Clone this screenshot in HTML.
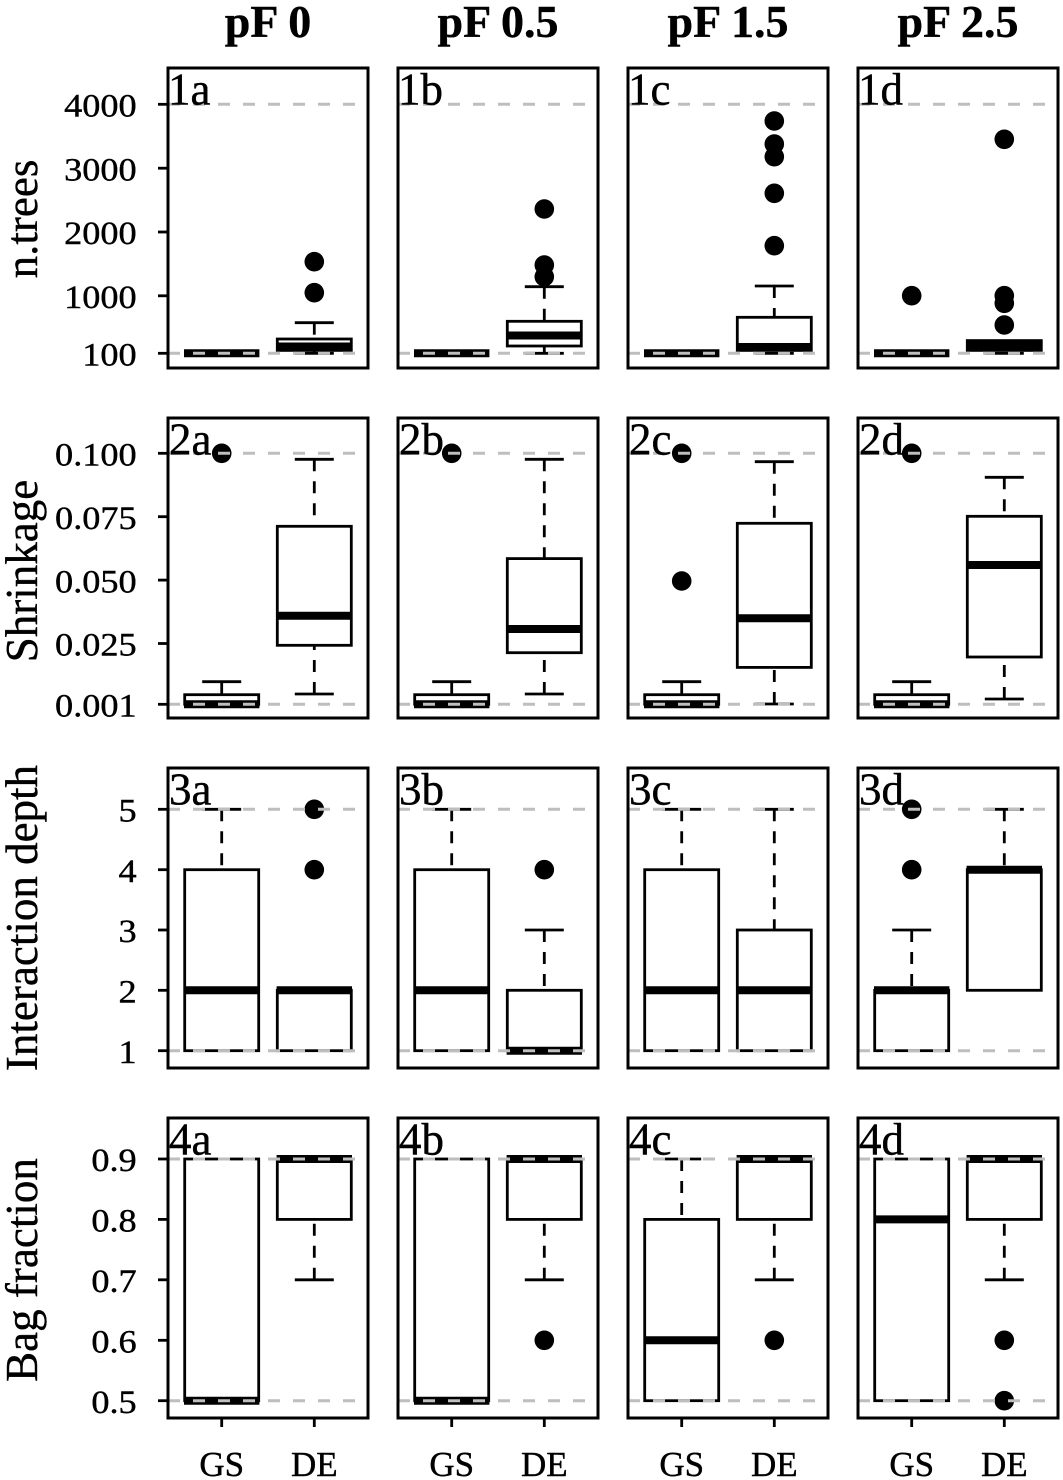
<!DOCTYPE html>
<html><head><meta charset="utf-8"><style>
html,body{margin:0;padding:0;background:#fff;}
svg{display:block;}
.f{fill:none;stroke:#000;stroke-width:3;}
.b{fill:#fff;stroke:#000;stroke-width:2.8;}
.m{stroke:#000;stroke-width:8;}
.w{stroke:#000;stroke-width:2.8;stroke-dasharray:12 10;}
.s{stroke:#000;stroke-width:2.8;}
.g{stroke:#bebebe;stroke-width:3;stroke-dasharray:12 13;}
.t{stroke:#000;stroke-width:2.8;}
text{font-family:"Liberation Serif",serif;fill:#000;stroke:#000;stroke-width:0.4;}
.tl{font-size:33px;}
.pl{font-size:45px;}
.yl{font-size:45px;}
.xl{font-size:35px;}
.ti{font-size:46px;font-weight:bold;}
</style></head><body>
<svg width="1063" height="1480" viewBox="0 0 1063 1480" xmlns="http://www.w3.org/2000/svg">
<rect width="1063" height="1480" fill="#fff"/>

<!-- titles -->
<text class="ti" x="268" y="37" text-anchor="middle">pF 0</text>
<text class="ti" x="498" y="37" text-anchor="middle">pF 0.5</text>
<text class="ti" x="728" y="37" text-anchor="middle">pF 1.5</text>
<text class="ti" x="958" y="37" text-anchor="middle">pF 2.5</text>

<!-- y labels -->
<text class="yl" transform="translate(37,219) rotate(-90)" text-anchor="middle">n.trees</text>
<text class="yl" transform="translate(37,571) rotate(-90)" text-anchor="middle">Shrinkage</text>
<text class="yl" transform="translate(37,918) rotate(-90)" text-anchor="middle">Interaction depth</text>
<text class="yl" transform="translate(37,1270) rotate(-90)" text-anchor="middle">Bag fraction</text>

<!-- y tick labels -->
<g class="tl" text-anchor="end">
<text transform="translate(136.7,116.5) scale(1.1,1)">4000</text>
<text transform="translate(136.7,180.4) scale(1.1,1)">3000</text>
<text transform="translate(136.7,244.2) scale(1.1,1)">2000</text>
<text transform="translate(136.7,308) scale(1.1,1)">1000</text>
<text transform="translate(136.7,365.5) scale(1.1,1)">100</text>

<text transform="translate(136.7,465.5) scale(1.1,1)">0.100</text>
<text transform="translate(136.7,528.9) scale(1.1,1)">0.075</text>
<text transform="translate(136.7,592.3) scale(1.1,1)">0.050</text>
<text transform="translate(136.7,655.7) scale(1.1,1)">0.025</text>
<text transform="translate(136.7,716.5) scale(1.1,1)">0.001</text>

<text transform="translate(136.7,821.5) scale(1.1,1)">5</text>
<text transform="translate(136.7,881.9) scale(1.1,1)">4</text>
<text transform="translate(136.7,942.2) scale(1.1,1)">3</text>
<text transform="translate(136.7,1002.5) scale(1.1,1)">2</text>
<text transform="translate(136.7,1062.9) scale(1.1,1)">1</text>

<text transform="translate(136.7,1171.2) scale(1.1,1)">0.9</text>
<text transform="translate(136.7,1231.6) scale(1.1,1)">0.8</text>
<text transform="translate(136.7,1292) scale(1.1,1)">0.7</text>
<text transform="translate(136.7,1352.5) scale(1.1,1)">0.6</text>
<text transform="translate(136.7,1412.9) scale(1.1,1)">0.5</text>
</g>

<!-- y ticks -->
<g class="t">
<line x1="158" x2="168" y1="104.3" y2="104.3"/><line x1="158" x2="168" y1="168.2" y2="168.2"/><line x1="158" x2="168" y1="232" y2="232"/><line x1="158" x2="168" y1="295.8" y2="295.8"/><line x1="158" x2="168" y1="353.3" y2="353.3"/>
<line x1="158" x2="168" y1="453.3" y2="453.3"/><line x1="158" x2="168" y1="516.7" y2="516.7"/><line x1="158" x2="168" y1="580.1" y2="580.1"/><line x1="158" x2="168" y1="643.5" y2="643.5"/><line x1="158" x2="168" y1="704.3" y2="704.3"/>
<line x1="158" x2="168" y1="809.3" y2="809.3"/><line x1="158" x2="168" y1="869.7" y2="869.7"/><line x1="158" x2="168" y1="930" y2="930"/><line x1="158" x2="168" y1="990.3" y2="990.3"/><line x1="158" x2="168" y1="1050.7" y2="1050.7"/>
<line x1="158" x2="168" y1="1159" y2="1159"/><line x1="158" x2="168" y1="1219.4" y2="1219.4"/><line x1="158" x2="168" y1="1279.8" y2="1279.8"/><line x1="158" x2="168" y1="1340.3" y2="1340.3"/><line x1="158" x2="168" y1="1400.7" y2="1400.7"/>
</g>

<!-- x ticks -->
<g class="t">
<line x1="221.7" x2="221.7" y1="1418" y2="1427"/><line x1="314.3" x2="314.3" y1="1418" y2="1427"/>
<line x1="451.7" x2="451.7" y1="1418" y2="1427"/><line x1="544.3" x2="544.3" y1="1418" y2="1427"/>
<line x1="681.7" x2="681.7" y1="1418" y2="1427"/><line x1="774.3" x2="774.3" y1="1418" y2="1427"/>
<line x1="911.7" x2="911.7" y1="1418" y2="1427"/><line x1="1004.3" x2="1004.3" y1="1418" y2="1427"/>
</g>
<g class="xl" text-anchor="middle">
<text x="221.7" y="1476">GS</text><text x="314.3" y="1476">DE</text>
<text x="451.7" y="1476">GS</text><text x="544.3" y="1476">DE</text>
<text x="681.7" y="1476">GS</text><text x="774.3" y="1476">DE</text>
<text x="911.7" y="1476">GS</text><text x="1004.3" y="1476">DE</text>
</g>

<!-- ================= ROW 1 ================= -->
<!-- 1a -->
<line class="m" x1="184" x2="259.4" y1="353.3" y2="353.3"/>
<line class="w" x1="314.3" x2="314.3" y1="322.7" y2="339"/>
<line class="s" x1="294.8" x2="333.8" y1="322.7" y2="322.7"/>
<line class="w" x1="314.3" x2="314.3" y1="353.3" y2="350.4"/>
<line class="s" x1="294.8" x2="333.8" y1="353.3" y2="353.3"/>
<rect class="b" x="277.3" y="339" width="74" height="11.4"/>
<line class="m" x1="276.6" x2="352" y1="346.5" y2="346.5"/>
<circle cx="314.3" cy="261.7" r="9.8"/><circle cx="314.3" cy="292.7" r="9.8"/>

<!-- 1b -->
<line class="m" x1="414" x2="489.4" y1="353.3" y2="353.3"/>
<line class="w" x1="544.3" x2="544.3" y1="286.7" y2="321.3"/>
<line class="s" x1="524.8" x2="563.8" y1="286.7" y2="286.7"/>
<line class="w" x1="544.3" x2="544.3" y1="353.3" y2="346"/>
<line class="s" x1="524.8" x2="563.8" y1="353.3" y2="353.3"/>
<rect class="b" x="507.3" y="321.3" width="74" height="24.7"/>
<line class="m" x1="506.6" x2="582" y1="335.5" y2="335.5"/>
<circle cx="544.3" cy="209" r="9.8"/><circle cx="544.3" cy="265" r="9.8"/><circle cx="544.3" cy="276.7" r="9.8"/>

<!-- 1c -->
<line class="m" x1="644" x2="719.4" y1="353.3" y2="353.3"/>
<line class="w" x1="774.3" x2="774.3" y1="286" y2="317.3"/>
<line class="s" x1="754.8" x2="793.8" y1="286" y2="286"/>
<line class="s" x1="754.8" x2="793.8" y1="353.3" y2="353.3"/>
<rect class="b" x="737.3" y="317.3" width="74" height="33.1"/>
<line class="m" x1="736.6" x2="812" y1="347" y2="347"/>
<circle cx="774.3" cy="121" r="9.8"/><circle cx="774.3" cy="144" r="9.8"/><circle cx="774.3" cy="156.7" r="9.8"/><circle cx="774.3" cy="193.3" r="9.8"/><circle cx="774.3" cy="245.7" r="9.8"/>

<!-- 1d -->
<line class="m" x1="874" x2="949.4" y1="353.3" y2="353.3"/>
<circle cx="911.7" cy="295.7" r="9.8"/>
<line class="s" x1="984.8" x2="1023.8" y1="353.3" y2="353.3"/>
<rect class="b" x="967.3" y="340.6" width="74" height="9.8"/>
<line class="m" x1="966.6" x2="1042" y1="346" y2="346"/>
<circle cx="1004.3" cy="139.3" r="9.8"/><circle cx="1004.3" cy="295.7" r="9.8"/><circle cx="1004.3" cy="303.3" r="9.8"/><circle cx="1004.3" cy="325" r="9.8"/>

<!-- ================= ROW 2 ================= -->
<!-- 2a -->
<line class="w" x1="221.7" x2="221.7" y1="681.7" y2="694.7"/>
<line class="s" x1="202.2" x2="241.2" y1="681.7" y2="681.7"/>
<rect class="b" x="184.7" y="694.7" width="74" height="9.6"/>
<line class="m" x1="184" x2="259.4" y1="704.3" y2="704.3"/>
<circle cx="221.7" cy="453.3" r="9.8"/>
<line class="w" x1="314.3" x2="314.3" y1="459.3" y2="526.3"/>
<line class="s" x1="294.8" x2="333.8" y1="459.3" y2="459.3"/>
<line class="w" x1="314.3" x2="314.3" y1="694" y2="645.3"/>
<line class="s" x1="294.8" x2="333.8" y1="694" y2="694"/>
<rect class="b" x="277.3" y="526.3" width="74" height="119"/>
<line class="m" x1="276.6" x2="352" y1="615.8" y2="615.8"/>

<!-- 2b -->
<line class="w" x1="451.7" x2="451.7" y1="681.7" y2="694.7"/>
<line class="s" x1="432.2" x2="471.2" y1="681.7" y2="681.7"/>
<rect class="b" x="414.7" y="694.7" width="74" height="9.6"/>
<line class="m" x1="414" x2="489.4" y1="704.3" y2="704.3"/>
<circle cx="451.7" cy="453.3" r="9.8"/>
<line class="w" x1="544.3" x2="544.3" y1="459.3" y2="558.6"/>
<line class="s" x1="524.8" x2="563.8" y1="459.3" y2="459.3"/>
<line class="w" x1="544.3" x2="544.3" y1="694" y2="652.7"/>
<line class="s" x1="524.8" x2="563.8" y1="694" y2="694"/>
<rect class="b" x="507.3" y="558.6" width="74" height="94.1"/>
<line class="m" x1="506.6" x2="582" y1="629" y2="629"/>

<!-- 2c -->
<line class="w" x1="681.7" x2="681.7" y1="681.7" y2="694.7"/>
<line class="s" x1="662.2" x2="701.2" y1="681.7" y2="681.7"/>
<rect class="b" x="644.7" y="694.7" width="74" height="9.6"/>
<line class="m" x1="644" x2="719.4" y1="704.3" y2="704.3"/>
<circle cx="681.7" cy="453.3" r="9.8"/><circle cx="681.7" cy="581" r="9.8"/>
<line class="w" x1="774.3" x2="774.3" y1="461.7" y2="523.3"/>
<line class="s" x1="754.8" x2="793.8" y1="461.7" y2="461.7"/>
<line class="w" x1="774.3" x2="774.3" y1="704" y2="667.4"/>
<line class="s" x1="754.8" x2="793.8" y1="704" y2="704"/>
<rect class="b" x="737.3" y="523.3" width="74" height="144.1"/>
<line class="m" x1="736.6" x2="812" y1="618.3" y2="618.3"/>

<!-- 2d -->
<line class="w" x1="911.7" x2="911.7" y1="681.7" y2="694.7"/>
<line class="s" x1="892.2" x2="931.2" y1="681.7" y2="681.7"/>
<rect class="b" x="874.7" y="694.7" width="74" height="9.6"/>
<line class="m" x1="874" x2="949.4" y1="704.3" y2="704.3"/>
<circle cx="911.7" cy="453.3" r="9.8"/>
<line class="w" x1="1004.3" x2="1004.3" y1="477.3" y2="516.3"/>
<line class="s" x1="984.8" x2="1023.8" y1="477.3" y2="477.3"/>
<line class="w" x1="1004.3" x2="1004.3" y1="699" y2="657"/>
<line class="s" x1="984.8" x2="1023.8" y1="699" y2="699"/>
<rect class="b" x="967.3" y="516.3" width="74" height="140.7"/>
<line class="m" x1="966.6" x2="1042" y1="565" y2="565"/>

<!-- ================= ROW 3 ================= -->
<!-- 3a -->
<line class="w" x1="221.7" x2="221.7" y1="809.3" y2="869.7"/>
<line class="s" x1="202.2" x2="241.2" y1="809.3" y2="809.3"/>
<rect class="b" x="184.7" y="869.7" width="74" height="181"/>
<line class="m" x1="184" x2="259.4" y1="990.3" y2="990.3"/>
<rect class="b" x="277.3" y="990.3" width="74" height="60.4"/>
<line class="m" x1="276.6" x2="352" y1="990.3" y2="990.3"/>
<circle cx="314.3" cy="869.7" r="9.8"/><circle cx="314.3" cy="809.3" r="9.8"/>

<!-- 3b -->
<line class="w" x1="451.7" x2="451.7" y1="809.3" y2="869.7"/>
<line class="s" x1="432.2" x2="471.2" y1="809.3" y2="809.3"/>
<rect class="b" x="414.7" y="869.7" width="74" height="181"/>
<line class="m" x1="414" x2="489.4" y1="990.3" y2="990.3"/>
<line class="w" x1="544.3" x2="544.3" y1="930" y2="990.3"/>
<line class="s" x1="524.8" x2="563.8" y1="930" y2="930"/>
<rect class="b" x="507.3" y="990.3" width="74" height="60.4"/>
<line class="m" x1="506.6" x2="582" y1="1050.7" y2="1050.7"/>
<circle cx="544.3" cy="869.7" r="9.8"/>

<!-- 3c -->
<line class="w" x1="681.7" x2="681.7" y1="809.3" y2="869.7"/>
<line class="s" x1="662.2" x2="701.2" y1="809.3" y2="809.3"/>
<rect class="b" x="644.7" y="869.7" width="74" height="181"/>
<line class="m" x1="644" x2="719.4" y1="990.3" y2="990.3"/>
<line class="w" x1="774.3" x2="774.3" y1="809.3" y2="930"/>
<line class="s" x1="754.8" x2="793.8" y1="809.3" y2="809.3"/>
<rect class="b" x="737.3" y="930" width="74" height="120.7"/>
<line class="m" x1="736.6" x2="812" y1="990.3" y2="990.3"/>

<!-- 3d -->
<line class="w" x1="911.7" x2="911.7" y1="930" y2="990.3"/>
<line class="s" x1="892.2" x2="931.2" y1="930" y2="930"/>
<rect class="b" x="874.7" y="990.3" width="74" height="60.4"/>
<line class="m" x1="874" x2="949.4" y1="990.3" y2="990.3"/>
<circle cx="911.7" cy="869.7" r="9.8"/><circle cx="911.7" cy="809.3" r="9.8"/>
<line class="w" x1="1004.3" x2="1004.3" y1="809.3" y2="869.7"/>
<line class="s" x1="984.8" x2="1023.8" y1="809.3" y2="809.3"/>
<rect class="b" x="967.3" y="869.7" width="74" height="120.6"/>
<line class="m" x1="966.6" x2="1042" y1="869.7" y2="869.7"/>

<!-- ================= ROW 4 ================= -->
<!-- 4a -->
<rect class="b" x="184.7" y="1159" width="74" height="241.7"/>
<line class="m" x1="184" x2="259.4" y1="1400.7" y2="1400.7"/>
<line class="w" x1="314.3" x2="314.3" y1="1279.8" y2="1219.4"/>
<line class="s" x1="294.8" x2="333.8" y1="1279.8" y2="1279.8"/>
<rect class="b" x="277.3" y="1159" width="74" height="60.4"/>
<line class="m" x1="276.6" x2="352" y1="1159" y2="1159"/>

<!-- 4b -->
<rect class="b" x="414.7" y="1159" width="74" height="241.7"/>
<line class="m" x1="414" x2="489.4" y1="1400.7" y2="1400.7"/>
<line class="w" x1="544.3" x2="544.3" y1="1279.8" y2="1219.4"/>
<line class="s" x1="524.8" x2="563.8" y1="1279.8" y2="1279.8"/>
<rect class="b" x="507.3" y="1159" width="74" height="60.4"/>
<line class="m" x1="506.6" x2="582" y1="1159" y2="1159"/>
<circle cx="544.3" cy="1340.3" r="9.8"/>

<!-- 4c -->
<line class="w" x1="681.7" x2="681.7" y1="1159" y2="1219.4"/>
<line class="s" x1="662.2" x2="701.2" y1="1159" y2="1159"/>
<rect class="b" x="644.7" y="1219.4" width="74" height="181.3"/>
<line class="m" x1="644" x2="719.4" y1="1340.3" y2="1340.3"/>
<line class="w" x1="774.3" x2="774.3" y1="1279.8" y2="1219.4"/>
<line class="s" x1="754.8" x2="793.8" y1="1279.8" y2="1279.8"/>
<rect class="b" x="737.3" y="1159" width="74" height="60.4"/>
<line class="m" x1="736.6" x2="812" y1="1159" y2="1159"/>
<circle cx="774.3" cy="1340.3" r="9.8"/>

<!-- 4d -->
<rect class="b" x="874.7" y="1159" width="74" height="241.7"/>
<line class="m" x1="874" x2="949.4" y1="1219.4" y2="1219.4"/>
<line class="w" x1="1004.3" x2="1004.3" y1="1279.8" y2="1219.4"/>
<line class="s" x1="984.8" x2="1023.8" y1="1279.8" y2="1279.8"/>
<rect class="b" x="967.3" y="1159" width="74" height="60.4"/>
<line class="m" x1="966.6" x2="1042" y1="1159" y2="1159"/>
<circle cx="1004.3" cy="1340.3" r="9.8"/><circle cx="1004.3" cy="1400.7" r="9.8"/>

<!-- gray reference lines (drawn on top) -->
<g class="g">
<line x1="168" x2="368" y1="104.3" y2="104.3"/><line x1="168" x2="368" y1="353.3" y2="353.3"/>
<line x1="398" x2="598" y1="104.3" y2="104.3"/><line x1="398" x2="598" y1="353.3" y2="353.3"/>
<line x1="628" x2="828" y1="104.3" y2="104.3"/><line x1="628" x2="828" y1="353.3" y2="353.3"/>
<line x1="858" x2="1058" y1="104.3" y2="104.3"/><line x1="858" x2="1058" y1="353.3" y2="353.3"/>

<line x1="168" x2="368" y1="453.3" y2="453.3"/><line x1="168" x2="368" y1="704.3" y2="704.3"/>
<line x1="398" x2="598" y1="453.3" y2="453.3"/><line x1="398" x2="598" y1="704.3" y2="704.3"/>
<line x1="628" x2="828" y1="453.3" y2="453.3"/><line x1="628" x2="828" y1="704.3" y2="704.3"/>
<line x1="858" x2="1058" y1="453.3" y2="453.3"/><line x1="858" x2="1058" y1="704.3" y2="704.3"/>

<line x1="168" x2="368" y1="809.3" y2="809.3"/><line x1="168" x2="368" y1="1050.7" y2="1050.7"/>
<line x1="398" x2="598" y1="809.3" y2="809.3"/><line x1="398" x2="598" y1="1050.7" y2="1050.7"/>
<line x1="628" x2="828" y1="809.3" y2="809.3"/><line x1="628" x2="828" y1="1050.7" y2="1050.7"/>
<line x1="858" x2="1058" y1="809.3" y2="809.3"/><line x1="858" x2="1058" y1="1050.7" y2="1050.7"/>

<line x1="168" x2="368" y1="1159" y2="1159"/><line x1="168" x2="368" y1="1400.7" y2="1400.7"/>
<line x1="398" x2="598" y1="1159" y2="1159"/><line x1="398" x2="598" y1="1400.7" y2="1400.7"/>
<line x1="628" x2="828" y1="1159" y2="1159"/><line x1="628" x2="828" y1="1400.7" y2="1400.7"/>
<line x1="858" x2="1058" y1="1159" y2="1159"/><line x1="858" x2="1058" y1="1400.7" y2="1400.7"/>
</g>

<!-- frames -->
<g class="f">
<rect x="168" y="68" width="200" height="300"/><rect x="398" y="68" width="200" height="300"/><rect x="628" y="68" width="200" height="300"/><rect x="858" y="68" width="200" height="300"/>
<rect x="168" y="418" width="200" height="300"/><rect x="398" y="418" width="200" height="300"/><rect x="628" y="418" width="200" height="300"/><rect x="858" y="418" width="200" height="300"/>
<rect x="168" y="768" width="200" height="300"/><rect x="398" y="768" width="200" height="300"/><rect x="628" y="768" width="200" height="300"/><rect x="858" y="768" width="200" height="300"/>
<rect x="168" y="1118" width="200" height="300"/><rect x="398" y="1118" width="200" height="300"/><rect x="628" y="1118" width="200" height="300"/><rect x="858" y="1118" width="200" height="300"/>
</g>

<!-- panel labels -->
<g class="pl">
<text x="168" y="104.5">1a</text><text x="398" y="104.5">1b</text><text x="628" y="104.5">1c</text><text x="858" y="104.5">1d</text>
<text x="169" y="454.5">2a</text><text x="399" y="454.5">2b</text><text x="629" y="454.5">2c</text><text x="859" y="454.5">2d</text>
<text x="169" y="804.5">3a</text><text x="399" y="804.5">3b</text><text x="629" y="804.5">3c</text><text x="859" y="804.5">3d</text>
<text x="169" y="1154.5">4a</text><text x="399" y="1154.5">4b</text><text x="629" y="1154.5">4c</text><text x="859" y="1154.5">4d</text>
</g>
</svg>
</body></html>
